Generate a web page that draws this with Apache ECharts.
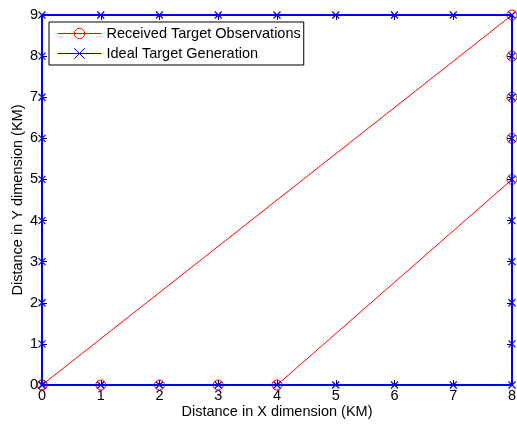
<!DOCTYPE html>
<html><head><meta charset="utf-8">
<script src="https://cdn.jsdelivr.net/npm/echarts@6/dist/echarts.min.js"></script>
<style>html,body{margin:0;padding:0;background:#fff}#c{width:517px;height:424px}</style>
</head><body><div id="c"></div>
<script>
const receivedX = [0, 1, 2, 3, 4, 8, 8, 8, 8, 8, 0];
const receivedY = [0, 0, 0, 0, 0, 5, 6, 7, 8, 9, 0];
const idealX = [0,0,0,0,0,0,0,0,0,0, 1,2,3,4,5,6,7,8, 8,8,8,8,8,8,8,8,8, 7,6,5,4,3,2,1,0];
const idealY = [0,1,2,3,4,5,6,7,8,9, 9,9,9,9,9,9,9,9, 8,7,6,5,4,3,2,1,0, 0,0,0,0,0,0,0,0];
const xTicks = [0,1,2,3,4,5,6,7,8];
const yTicks = [0,1,2,3,4,5,6,7,8,9];

const chart = echarts.init(document.getElementById('c'));
const font = 'Liberation Sans, Arial, sans-serif';
const fs = 14.5;
const xMark = 'path://M0,0L10,10M10,0L0,10';
const axBase = {
  type: 'value', interval: 1,
  axisLine: {show: true, onZero: false, lineStyle: {color: '#000', width: 1}},
  axisTick: {show: true, inside: true, length: 5, lineStyle: {color: '#000'}},
  splitLine: {show: false},
};
chart.setOption({
  animation: false,
  grid: {left: 42, right: 5, top: 15, bottom: 39, containLabel: false, outerBoundsMode: 'none'},
  legend: {
    orient: 'vertical', left: 49, top: 22,
    backgroundColor: '#fff', borderColor: '#000', borderWidth: 1,
    padding: [4, 3, 4, 8], itemGap: 5, itemWidth: 44, itemHeight: 13,
    lineStyle: {width: 1},
    itemStyle: {borderWidth: 1},
    textStyle: {fontFamily: font, fontSize: fs, color: '#000'},
    data: ['Received Target Observations', 'Ideal Target Generation']
  },
  xAxis: [
    Object.assign({}, axBase, {min: 0, max: 8, position: 'bottom',
      name: 'Distance in X dimension (KM)', nameLocation: 'middle', nameGap: 19,
      nameMoveOverlap: false,
      nameTextStyle: {fontFamily: font, fontSize: fs, color: '#000'},
      axisLabel: {fontFamily: font, fontSize: fs, color: '#000', margin: 3,
        formatter: v => xTicks.includes(v) ? String(v) : ''}}),
    Object.assign({}, axBase, {min: 0, max: 8, position: 'top', axisLabel: {show: false}})
  ],
  yAxis: [
    Object.assign({}, axBase, {min: 0, max: 9, position: 'left',
      name: 'Distance in Y dimension (KM)', nameLocation: 'middle', nameGap: 17,
      nameMoveOverlap: false,
      nameTextStyle: {fontFamily: font, fontSize: fs, color: '#000'},
      axisLabel: {fontFamily: font, fontSize: fs, color: '#000', margin: 4,
        formatter: v => yTicks.includes(v) ? String(v) : ''}}),
    Object.assign({}, axBase, {min: 0, max: 9, position: 'right', axisLabel: {show: false}})
  ],
  series: [
    {
      name: 'Received Target Observations', type: 'line',
      data: receivedX.map((x, i) => [x, receivedY[i]]),
      symbol: 'circle', symbolSize: 10, showAllSymbol: true,
      lineStyle: {color: '#ff0000', width: 1},
      itemStyle: {color: 'rgba(0,0,0,0)', borderColor: '#ff0000', borderWidth: 1},
      z: 2
    },
    {
      name: 'Ideal Target Generation', type: 'line',
      data: idealX.map((x, i) => [x, idealY[i]]),
      symbol: xMark, symbolSize: 7, showAllSymbol: true,
      lineStyle: {color: '#0000ff', width: 2},
      itemStyle: {color: '#0000ff', borderColor: '#0000ff', borderWidth: 1.2},
      z: 3
    }
  ]
});
</script></body></html>
